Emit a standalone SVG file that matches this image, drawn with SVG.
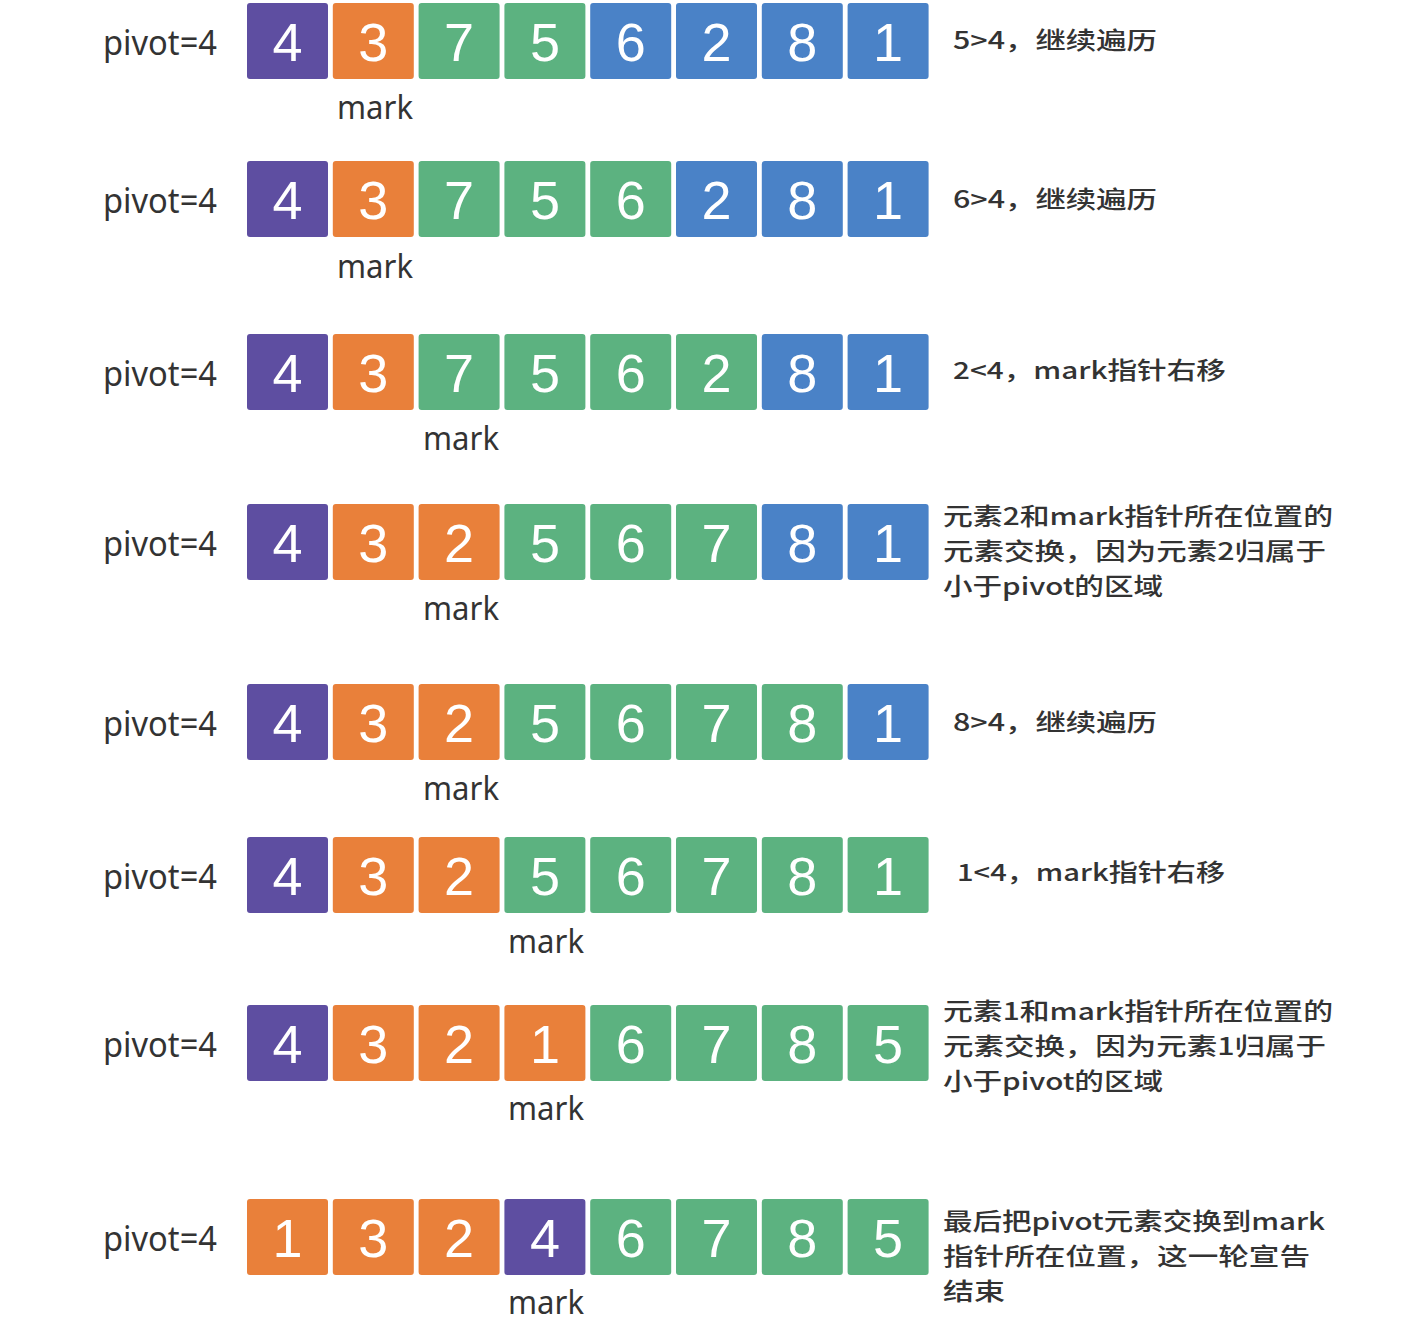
<svg xmlns="http://www.w3.org/2000/svg" width="1402" height="1332" viewBox="0 0 1402 1332">
<style>
.P{fill:#5e4ea1}.O{fill:#e9803a}.G{fill:#5cb280}.B{fill:#4a82c7}
.d{font-family:"Liberation Sans","DejaVu Sans",sans-serif;font-size:54px;fill:#fff;text-anchor:middle}
.pv{font-family:"Noto Sans","DejaVu Sans",sans-serif;font-size:34px;fill:#333}
.mk{font-family:"Noto Sans","DejaVu Sans",sans-serif;font-size:32px;fill:#333;text-anchor:middle}
.t{font-family:"Noto Sans CJK SC","Noto Sans",sans-serif;font-size:24px;font-weight:500;fill:#333}
</style>
<rect width="1402" height="1332" fill="#fff"/>
<g id="connectors"/>
<!-- Row 1 -->
<g id="row1">
<text class="pv" x="103" y="55" textLength="114" lengthAdjust="spacingAndGlyphs">pivot=4</text>
<g id="r1c0"><rect class="P" x="247" y="3" width="81" height="76" rx="3"/><text class="d" x="287.5" y="61">4</text></g>
<g id="r1c1"><rect class="O" x="332.8" y="3" width="81" height="76" rx="3"/><text class="d" x="373.3" y="61">3</text></g>
<g id="r1c2"><rect class="G" x="418.6" y="3" width="81" height="76" rx="3"/><text class="d" x="459.1" y="61">7</text></g>
<g id="r1c3"><rect class="G" x="504.4" y="3" width="81" height="76" rx="3"/><text class="d" x="544.9" y="61">5</text></g>
<g id="r1c4"><rect class="B" x="590.2" y="3" width="81" height="76" rx="3"/><text class="d" x="630.7" y="61">6</text></g>
<g id="r1c5"><rect class="B" x="676" y="3" width="81" height="76" rx="3"/><text class="d" x="716.5" y="61">2</text></g>
<g id="r1c6"><rect class="B" x="761.8" y="3" width="81" height="76" rx="3"/><text class="d" x="802.3" y="61">8</text></g>
<g id="r1c7"><rect class="B" x="847.6" y="3" width="81" height="76" rx="3"/><text class="d" x="888.1" y="61">1</text></g>
<text class="mk" x="375" y="119" textLength="76" lengthAdjust="spacingAndGlyphs">mark</text>
<text class="t" x="953" y="49" textLength="204" lengthAdjust="spacingAndGlyphs">5&gt;4，继续遍历</text>
</g>
<!-- Row 2 -->
<g id="row2">
<text class="pv" x="103" y="213" textLength="114" lengthAdjust="spacingAndGlyphs">pivot=4</text>
<g id="r2c0"><rect class="P" x="247" y="161" width="81" height="76" rx="3"/><text class="d" x="287.5" y="219">4</text></g>
<g id="r2c1"><rect class="O" x="332.8" y="161" width="81" height="76" rx="3"/><text class="d" x="373.3" y="219">3</text></g>
<g id="r2c2"><rect class="G" x="418.6" y="161" width="81" height="76" rx="3"/><text class="d" x="459.1" y="219">7</text></g>
<g id="r2c3"><rect class="G" x="504.4" y="161" width="81" height="76" rx="3"/><text class="d" x="544.9" y="219">5</text></g>
<g id="r2c4"><rect class="G" x="590.2" y="161" width="81" height="76" rx="3"/><text class="d" x="630.7" y="219">6</text></g>
<g id="r2c5"><rect class="B" x="676" y="161" width="81" height="76" rx="3"/><text class="d" x="716.5" y="219">2</text></g>
<g id="r2c6"><rect class="B" x="761.8" y="161" width="81" height="76" rx="3"/><text class="d" x="802.3" y="219">8</text></g>
<g id="r2c7"><rect class="B" x="847.6" y="161" width="81" height="76" rx="3"/><text class="d" x="888.1" y="219">1</text></g>
<text class="mk" x="375" y="278" textLength="76" lengthAdjust="spacingAndGlyphs">mark</text>
<text class="t" x="953" y="208" textLength="204" lengthAdjust="spacingAndGlyphs">6&gt;4，继续遍历</text>
</g>
<!-- Row 3 -->
<g id="row3">
<text class="pv" x="103" y="386" textLength="114" lengthAdjust="spacingAndGlyphs">pivot=4</text>
<g id="r3c0"><rect class="P" x="247" y="334" width="81" height="76" rx="3"/><text class="d" x="287.5" y="392">4</text></g>
<g id="r3c1"><rect class="O" x="332.8" y="334" width="81" height="76" rx="3"/><text class="d" x="373.3" y="392">3</text></g>
<g id="r3c2"><rect class="G" x="418.6" y="334" width="81" height="76" rx="3"/><text class="d" x="459.1" y="392">7</text></g>
<g id="r3c3"><rect class="G" x="504.4" y="334" width="81" height="76" rx="3"/><text class="d" x="544.9" y="392">5</text></g>
<g id="r3c4"><rect class="G" x="590.2" y="334" width="81" height="76" rx="3"/><text class="d" x="630.7" y="392">6</text></g>
<g id="r3c5"><rect class="G" x="676" y="334" width="81" height="76" rx="3"/><text class="d" x="716.5" y="392">2</text></g>
<g id="r3c6"><rect class="B" x="761.8" y="334" width="81" height="76" rx="3"/><text class="d" x="802.3" y="392">8</text></g>
<g id="r3c7"><rect class="B" x="847.6" y="334" width="81" height="76" rx="3"/><text class="d" x="888.1" y="392">1</text></g>
<text class="mk" x="461" y="450" textLength="76" lengthAdjust="spacingAndGlyphs">mark</text>
<text class="t" x="953" y="379" textLength="273" lengthAdjust="spacingAndGlyphs">2&lt;4，mark指针右移</text>
</g>
<!-- Row 4 -->
<g id="row4">
<text class="pv" x="103" y="556" textLength="114" lengthAdjust="spacingAndGlyphs">pivot=4</text>
<g id="r4c0"><rect class="P" x="247" y="504" width="81" height="76" rx="3"/><text class="d" x="287.5" y="562">4</text></g>
<g id="r4c1"><rect class="O" x="332.8" y="504" width="81" height="76" rx="3"/><text class="d" x="373.3" y="562">3</text></g>
<g id="r4c2"><rect class="O" x="418.6" y="504" width="81" height="76" rx="3"/><text class="d" x="459.1" y="562">2</text></g>
<g id="r4c3"><rect class="G" x="504.4" y="504" width="81" height="76" rx="3"/><text class="d" x="544.9" y="562">5</text></g>
<g id="r4c4"><rect class="G" x="590.2" y="504" width="81" height="76" rx="3"/><text class="d" x="630.7" y="562">6</text></g>
<g id="r4c5"><rect class="G" x="676" y="504" width="81" height="76" rx="3"/><text class="d" x="716.5" y="562">7</text></g>
<g id="r4c6"><rect class="B" x="761.8" y="504" width="81" height="76" rx="3"/><text class="d" x="802.3" y="562">8</text></g>
<g id="r4c7"><rect class="B" x="847.6" y="504" width="81" height="76" rx="3"/><text class="d" x="888.1" y="562">1</text></g>
<text class="mk" x="461" y="620" textLength="76" lengthAdjust="spacingAndGlyphs">mark</text>
<text class="t" x="943" y="525" textLength="390" lengthAdjust="spacingAndGlyphs">元素2和mark指针所在位置的</text>
<text class="t" x="943" y="560" textLength="383" lengthAdjust="spacingAndGlyphs">元素交换，因为元素2归属于</text>
<text class="t" x="943" y="595" textLength="220" lengthAdjust="spacingAndGlyphs">小于pivot的区域</text>
</g>
<!-- Row 5 -->
<g id="row5">
<text class="pv" x="103" y="736" textLength="114" lengthAdjust="spacingAndGlyphs">pivot=4</text>
<g id="r5c0"><rect class="P" x="247" y="684" width="81" height="76" rx="3"/><text class="d" x="287.5" y="742">4</text></g>
<g id="r5c1"><rect class="O" x="332.8" y="684" width="81" height="76" rx="3"/><text class="d" x="373.3" y="742">3</text></g>
<g id="r5c2"><rect class="O" x="418.6" y="684" width="81" height="76" rx="3"/><text class="d" x="459.1" y="742">2</text></g>
<g id="r5c3"><rect class="G" x="504.4" y="684" width="81" height="76" rx="3"/><text class="d" x="544.9" y="742">5</text></g>
<g id="r5c4"><rect class="G" x="590.2" y="684" width="81" height="76" rx="3"/><text class="d" x="630.7" y="742">6</text></g>
<g id="r5c5"><rect class="G" x="676" y="684" width="81" height="76" rx="3"/><text class="d" x="716.5" y="742">7</text></g>
<g id="r5c6"><rect class="G" x="761.8" y="684" width="81" height="76" rx="3"/><text class="d" x="802.3" y="742">8</text></g>
<g id="r5c7"><rect class="B" x="847.6" y="684" width="81" height="76" rx="3"/><text class="d" x="888.1" y="742">1</text></g>
<text class="mk" x="461" y="800" textLength="76" lengthAdjust="spacingAndGlyphs">mark</text>
<text class="t" x="953" y="731" textLength="204" lengthAdjust="spacingAndGlyphs">8&gt;4，继续遍历</text>
</g>
<!-- Row 6 -->
<g id="row6">
<text class="pv" x="103" y="889" textLength="114" lengthAdjust="spacingAndGlyphs">pivot=4</text>
<g id="r6c0"><rect class="P" x="247" y="837" width="81" height="76" rx="3"/><text class="d" x="287.5" y="895">4</text></g>
<g id="r6c1"><rect class="O" x="332.8" y="837" width="81" height="76" rx="3"/><text class="d" x="373.3" y="895">3</text></g>
<g id="r6c2"><rect class="O" x="418.6" y="837" width="81" height="76" rx="3"/><text class="d" x="459.1" y="895">2</text></g>
<g id="r6c3"><rect class="G" x="504.4" y="837" width="81" height="76" rx="3"/><text class="d" x="544.9" y="895">5</text></g>
<g id="r6c4"><rect class="G" x="590.2" y="837" width="81" height="76" rx="3"/><text class="d" x="630.7" y="895">6</text></g>
<g id="r6c5"><rect class="G" x="676" y="837" width="81" height="76" rx="3"/><text class="d" x="716.5" y="895">7</text></g>
<g id="r6c6"><rect class="G" x="761.8" y="837" width="81" height="76" rx="3"/><text class="d" x="802.3" y="895">8</text></g>
<g id="r6c7"><rect class="G" x="847.6" y="837" width="81" height="76" rx="3"/><text class="d" x="888.1" y="895">1</text></g>
<text class="mk" x="546" y="953" textLength="76" lengthAdjust="spacingAndGlyphs">mark</text>
<text class="t" x="957" y="881" textLength="268" lengthAdjust="spacingAndGlyphs">1&lt;4，mark指针右移</text>
</g>
<!-- Row 7 -->
<g id="row7">
<text class="pv" x="103" y="1057" textLength="114" lengthAdjust="spacingAndGlyphs">pivot=4</text>
<g id="r7c0"><rect class="P" x="247" y="1005" width="81" height="76" rx="3"/><text class="d" x="287.5" y="1063">4</text></g>
<g id="r7c1"><rect class="O" x="332.8" y="1005" width="81" height="76" rx="3"/><text class="d" x="373.3" y="1063">3</text></g>
<g id="r7c2"><rect class="O" x="418.6" y="1005" width="81" height="76" rx="3"/><text class="d" x="459.1" y="1063">2</text></g>
<g id="r7c3"><rect class="O" x="504.4" y="1005" width="81" height="76" rx="3"/><text class="d" x="544.9" y="1063">1</text></g>
<g id="r7c4"><rect class="G" x="590.2" y="1005" width="81" height="76" rx="3"/><text class="d" x="630.7" y="1063">6</text></g>
<g id="r7c5"><rect class="G" x="676" y="1005" width="81" height="76" rx="3"/><text class="d" x="716.5" y="1063">7</text></g>
<g id="r7c6"><rect class="G" x="761.8" y="1005" width="81" height="76" rx="3"/><text class="d" x="802.3" y="1063">8</text></g>
<g id="r7c7"><rect class="G" x="847.6" y="1005" width="81" height="76" rx="3"/><text class="d" x="888.1" y="1063">5</text></g>
<text class="mk" x="546" y="1120" textLength="76" lengthAdjust="spacingAndGlyphs">mark</text>
<text class="t" x="943" y="1020" textLength="390" lengthAdjust="spacingAndGlyphs">元素1和mark指针所在位置的</text>
<text class="t" x="943" y="1055" textLength="383" lengthAdjust="spacingAndGlyphs">元素交换，因为元素1归属于</text>
<text class="t" x="943" y="1090" textLength="220" lengthAdjust="spacingAndGlyphs">小于pivot的区域</text>
</g>
<!-- Row 8 -->
<g id="row8">
<text class="pv" x="103" y="1251" textLength="114" lengthAdjust="spacingAndGlyphs">pivot=4</text>
<g id="r8c0"><rect class="O" x="247" y="1199" width="81" height="76" rx="3"/><text class="d" x="287.5" y="1257">1</text></g>
<g id="r8c1"><rect class="O" x="332.8" y="1199" width="81" height="76" rx="3"/><text class="d" x="373.3" y="1257">3</text></g>
<g id="r8c2"><rect class="O" x="418.6" y="1199" width="81" height="76" rx="3"/><text class="d" x="459.1" y="1257">2</text></g>
<g id="r8c3"><rect class="P" x="504.4" y="1199" width="81" height="76" rx="3"/><text class="d" x="544.9" y="1257">4</text></g>
<g id="r8c4"><rect class="G" x="590.2" y="1199" width="81" height="76" rx="3"/><text class="d" x="630.7" y="1257">6</text></g>
<g id="r8c5"><rect class="G" x="676" y="1199" width="81" height="76" rx="3"/><text class="d" x="716.5" y="1257">7</text></g>
<g id="r8c6"><rect class="G" x="761.8" y="1199" width="81" height="76" rx="3"/><text class="d" x="802.3" y="1257">8</text></g>
<g id="r8c7"><rect class="G" x="847.6" y="1199" width="81" height="76" rx="3"/><text class="d" x="888.1" y="1257">5</text></g>
<text class="mk" x="546" y="1314" textLength="76" lengthAdjust="spacingAndGlyphs">mark</text>
<text class="t" x="943" y="1230" textLength="382" lengthAdjust="spacingAndGlyphs">最后把pivot元素交换到mark</text>
<text class="t" x="943" y="1265" textLength="367" lengthAdjust="spacingAndGlyphs">指针所在位置，这一轮宣告</text>
<text class="t" x="943" y="1300" textLength="62" lengthAdjust="spacingAndGlyphs">结束</text>
</g>
</svg>
